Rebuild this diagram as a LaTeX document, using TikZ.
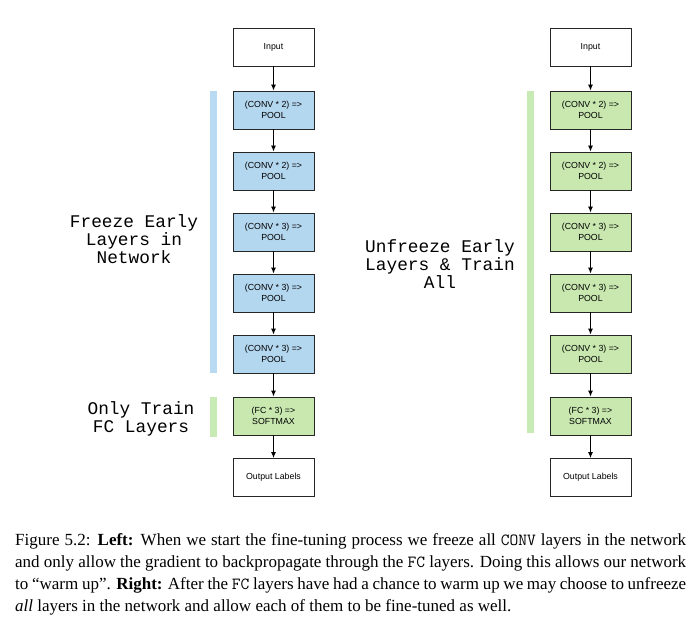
\documentclass[tikz,border=0pt]{standalone}
\usepackage{fontspec}
\setmainfont{Liberation Serif}
\newfontfamily\boxfont{Liberation Sans}
\newfontfamily\labfont{Liberation Mono}
\usetikzlibrary{arrows.meta}
\definecolor{boxblue}{HTML}{B4D7F0}
\definecolor{boxgreen}{HTML}{C8E8B0}
\definecolor{barblue}{HTML}{B8DAF2}
\definecolor{bargreen}{HTML}{C8EAB4}
\newcommand{\capline}[1]{\makebox[671pt][s]{#1}}
\tikzset{
  layer/.style={draw=black!85, line width=0.9pt, minimum width=81pt, minimum height=38pt, inner sep=1pt,
    align=center, font=\boxfont\fontsize{8.8}{11}\selectfont},
  blue/.style={fill=boxblue},
  green/.style={fill=boxgreen},
  flow/.style={draw=black, line width=0.9pt, -{Latex[length=6pt,width=5pt]}},
  lab/.style={align=center, font=\labfont\fontsize{17.8}{18}\selectfont, inner sep=0pt},
}
\begin{document}
\begin{tikzpicture}[x=1pt,y=-1pt]
\useasboundingbox (0,0) rectangle (698,620);
% bars
\fill[barblue] (210,91) rectangle (217,373);
\fill[bargreen] (210,397) rectangle (217,437);
\fill[bargreen] (527,91) rectangle (534,433);
% left column
\node[layer] (Lin) at (273.5,47) {Input};
\node[layer,blue] (L1) at (273.5,110) {(CONV * 2) =>\\POOL};
\node[layer,blue] (L2) at (273.5,171) {(CONV * 2) =>\\POOL};
\node[layer,blue] (L3) at (273.5,232) {(CONV * 3) =>\\POOL};
\node[layer,blue] (L4) at (273.5,293) {(CONV * 3) =>\\POOL};
\node[layer,blue] (L5) at (273.5,354) {(CONV * 3) =>\\POOL};
\node[layer,green] (L6) at (273.5,416) {(FC * 3) =>\\SOFTMAX};
\node[layer] (Lout) at (273.5,477.5) {Output Labels};
% right column
\node[layer] (Rin) at (590.5,47) {Input};
\node[layer,green] (R1) at (590.5,110) {(CONV * 2) =>\\POOL};
\node[layer,green] (R2) at (590.5,171) {(CONV * 2) =>\\POOL};
\node[layer,green] (R3) at (590.5,232) {(CONV * 3) =>\\POOL};
\node[layer,green] (R4) at (590.5,293) {(CONV * 3) =>\\POOL};
\node[layer,green] (R5) at (590.5,354) {(CONV * 3) =>\\POOL};
\node[layer,green] (R6) at (590.5,416) {(FC * 3) =>\\SOFTMAX};
\node[layer] (Rout) at (590.5,477.5) {Output Labels};
\foreach \s in {L,R}{
  \draw[flow] (\s in) -- (\s 1);
  \draw[flow] (\s 1) -- (\s 2);
  \draw[flow] (\s 2) -- (\s 3);
  \draw[flow] (\s 3) -- (\s 4);
  \draw[flow] (\s 4) -- (\s 5);
  \draw[flow] (\s 5) -- (\s 6);
  \draw[flow] (\s 6) -- (\s out);
}
% labels
\node[lab] (freeze) at (134,239) {Freeze Early\\Layers in\\Network};
\node[lab] (only) at (141,419) {Only Train\\FC Layers};
\node[lab] (unfreeze) at (440,264) {Unfreeze Early\\Layers \& Train\\All};
% caption
\node[anchor=north west, inner sep=0pt, align=left, font=\fontsize{17}{22}\selectfont] (cap) at (15,529.6)
{\strut\capline{Figure 5.2: \textbf{Left:} When we start the fine-tuning process we freeze all \texttt{CONV} layers in the network}\\
\capline{and only allow the gradient to backpropagate through the \texttt{FC} layers. Doing this allows our network}\\
\capline{to ``warm up''. \textbf{Right:} After the \texttt{FC} layers have had a chance to warm up we may choose to unfreeze}\\
\textit{all} layers in the network and allow each of them to be fine-tuned as well.};
\end{tikzpicture}
\end{document}
